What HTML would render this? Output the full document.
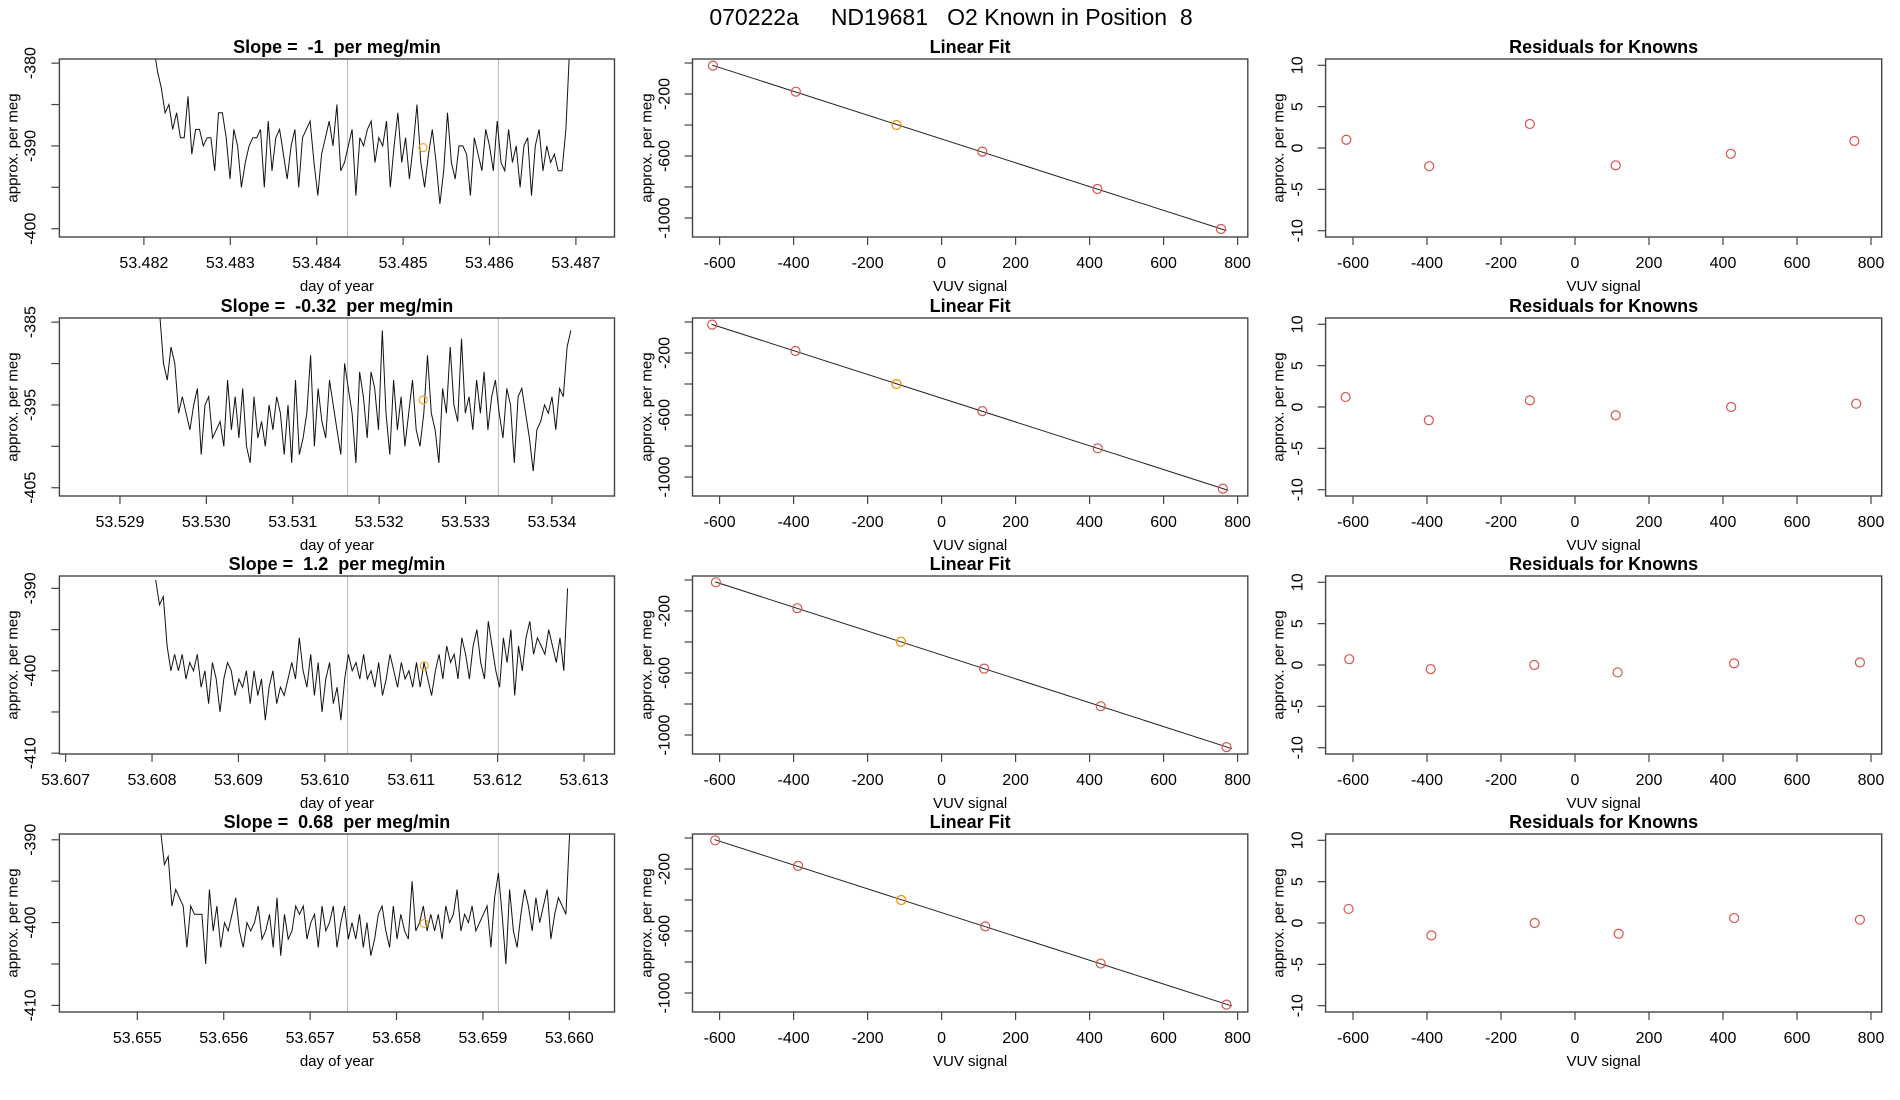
<!DOCTYPE html>
<html><head><meta charset="utf-8"><style>
html,body{margin:0;padding:0;background:#fff;}
svg{display:block;font-family:"Liberation Sans",sans-serif;}
</style></head><body>
<svg id="chart" width="1900" height="1100" xmlns="http://www.w3.org/2000/svg">
<rect width="1900" height="1100" fill="#fff"/>
<text x="951" y="25" font-size="23" text-anchor="middle" fill="#000" xml:space="preserve">070222a     ND19681   O2 Known in Position  8</text>
</svg>
<script>
// ---- data ----
const slopeLabels = ["-1", "-0.32", "1.2", "0.68"];
const tsStart = [53.482113, 53.52946, 53.608043, 53.65527];
const tsEnd = [53.486928, 53.534219, 53.61281, 53.660004];
const tsXMin = [53.481022, 53.528299, 53.606928, 53.654098];
const tsXTicks = [
  [53.482,53.483,53.484,53.485,53.486,53.487],
  [53.529,53.530,53.531,53.532,53.533,53.534],
  [53.607,53.608,53.609,53.610,53.611,53.612,53.613],
  [53.655,53.656,53.657,53.658,53.659,53.660]
];
const tsXTickLabels = [
  ["53.482","53.483","53.484","53.485","53.486","53.487"],
  ["53.529","53.530","53.531","53.532","53.533","53.534"],
  ["53.607","53.608","53.609","53.610","53.611","53.612","53.613"],
  ["53.655","53.656","53.657","53.658","53.659","53.660"]
];
const tsYTop = [-379.5, -384.5, -388.5, -389.3];
const tsYBottom = [-401.0, -406.0, -410.1, -410.8];
const tsYTicks = [[-380,-385,-390,-395,-400],[-385,-390,-395,-400,-405],[-390,-395,-400,-405,-410],[-390,-395,-400,-405,-410]];
const tsYTickLabels = [["-380","","-390","","-400"],["-385","","-395","","-405"],["-390","","-400","","-410"],["-390","","-400","","-410"]];
const tsGrayLines = [[53.484357,53.486103],[53.531634,53.53338],[53.610263,53.612009],[53.657433,53.659179]];
const tsKnownX = [53.48523, 53.53251, 53.61115, 53.65832];
const tsKnownY = [-390.2, -394.4, -399.4, -400.1];
const tsValues1 = [-378,-381,-383,-386,-385,-388,-386,-389,-389,-384,-391,-388,-388,-390,-389,-389,-393,-386,-386,-389,-394,-388,-390,-395,-392,-390,-389,-389,-388,-395,-387,-393,-389,-388,-391,-394,-390,-388,-395,-389,-388,-387,-392,-396,-391,-389,-387,-390,-385,-393,-392,-390,-388,-396,-389,-390,-388,-387,-392,-389,-390,-387,-395,-390,-386,-392,-389,-394,-390,-385,-392,-395,-391,-388,-392,-397,-393,-386,-392,-394,-390,-390,-391,-396,-389,-391,-393,-388,-390,-393,-387,-392,-393,-388,-392,-390,-395,-390,-389,-396,-390,-388,-393,-390,-392,-391,-393,-393,-388,-378];
const tsValues2 = [-384,-390,-392,-388,-390,-396,-394,-396,-398,-395,-393,-401,-395,-394,-399,-398,-397,-400,-392,-398,-394,-399,-393,-400,-402,-394,-399,-397,-400,-395,-398,-394,-396,-401,-395,-402,-392,-401,-399,-396,-389,-400,-393,-397,-399,-392,-395,-398,-401,-390,-393,-396,-402,-391,-394,-399,-391,-393,-398,-386,-396,-401,-392,-398,-394,-400,-396,-392,-398,-400,-396,-389,-396,-398,-402,-393,-396,-388,-395,-397,-387,-396,-394,-398,-392,-396,-391,-398,-394,-392,-396,-399,-393,-395,-402,-394,-393,-396,-399,-403,-398,-397,-395,-396,-394,-398,-393,-394,-388,-386];
const tsValues3 = [-389,-392,-391,-397,-400,-398,-400,-398,-401,-399,-400,-398,-402,-400,-404,-399,-401,-405,-401,-399,-400,-403,-401,-402,-400,-404,-400,-403,-401,-406,-402,-400,-404,-402,-403,-401,-399,-401,-396,-400,-402,-398,-403,-399,-405,-401,-399,-404,-402,-406,-401,-398,-400,-399,-401,-398,-401,-400,-402,-399,-403,-401,-398,-400,-402,-399,-401,-400,-402,-399,-402,-399,-401,-403,-400,-398,-401,-397,-399,-398,-401,-396,-398,-401,-397,-395,-399,-401,-394,-397,-400,-402,-396,-399,-395,-403,-397,-400,-396,-394,-398,-396,-397,-398,-395,-397,-399,-396,-400,-390];
const tsValues4 = [-389,-393,-392,-398,-396,-397,-398,-403,-398,-399,-399,-399,-405,-396,-401,-398,-403,-400,-401,-399,-397,-401,-403,-400,-401,-400,-398,-402,-401,-399,-403,-397,-404,-399,-402,-401,-398,-399,-398,-402,-400,-399,-403,-398,-401,-400,-398,-403,-400,-398,-402,-400,-402,-399,-403,-400,-404,-402,-399,-398,-401,-403,-398,-402,-399,-401,-402,-395,-401,-400,-398,-401,-399,-401,-399,-402,-398,-400,-399,-396,-401,-399,-400,-398,-401,-400,-399,-398,-403,-397,-394,-399,-405,-396,-401,-403,-399,-396,-398,-401,-397,-400,-398,-396,-402,-399,-397,-398,-399,-389];
const tsValues = [tsValues1, tsValues2, tsValues3, tsValues4];

const fitX1 = [-618,-394,-122,110,421,755];
const fitY1 = [-17,-185,-400,-572,-813,-1071];
const fitX2 = [-620,-395,-122,110,422,760];
const fitY2 = [-17,-187,-400,-575,-815,-1075];
const fitX3 = [-610,-390,-110,115,430,770];
const fitY3 = [-15,-182,-398,-572,-814,-1078];
const fitX4 = [-612,-388,-109,118,430,770];
const fitY4 = [-15,-180,-400,-570,-810,-1075];
const fitXs = [fitX1, fitX2, fitX3, fitX4];
const fitYs = [fitY1, fitY2, fitY3, fitY4];
const knownIndex = 2;
const fitXTicks = [-600,-400,-200,0,200,400,600,800];
const fitYTicks = [0,-200,-400,-600,-800,-1000];
const fitYTickLabels = ["","-200","","-600","","-1000"];

const resid1 = [1.0,-2.2,2.9,-2.1,-0.7,0.85];
const resid2 = [1.2,-1.6,0.8,-1.0,0.0,0.4];
const resid3 = [0.7,-0.5,0.0,-0.9,0.2,0.3];
const resid4 = [1.7,-1.5,0.0,-1.3,0.6,0.4];
const resids = [resid1, resid2, resid3, resid4];
const residYTicks = [10,5,0,-5,-10];

// ---- drawing ----
const svg = document.getElementById('chart');
const NS = "http://www.w3.org/2000/svg";
function mk(tag, attrs, parent){
  const e = document.createElementNS(NS, tag);
  for (const k in attrs) e.setAttribute(k, attrs[k]);
  (parent||svg).appendChild(e);
  return e;
}
function txt(s, attrs, parent){ const t = mk('text', attrs, parent); t.textContent = s; return t; }

const rowTop = [59, 318, 576, 834];
const BOXH = 178;
const cols = [{l:59.4,r:614.5},{l:692.5,r:1247.8},{l:1325.6,r:1881.7}];
const tickLabX = [31, 665, 1298];
const axisLabX = [13, 647, 1279];
const FS = 16;

function frame(g, c, top, title){
  mk('rect',{x:c.l,y:top,width:c.r-c.l,height:BOXH,fill:'none',stroke:'#444','stroke-width':1.4},g);
  const t = txt(title,{x:(c.l+c.r)/2,y:top-6,'font-size':18,'font-weight':'bold','text-anchor':'middle'},g);
  t.setAttribute('xml:space','preserve');
  t.style.whiteSpace = 'pre';
  
  
}
function xAxis(g, c, top, ticks, labels, sx, label){
  const yb = top+BOXH;
  ticks.forEach((v,i)=>{
    const x = sx(v);
    mk('line',{x1:x,x2:x,y1:yb,y2:yb+8,stroke:'#444','stroke-width':1.2},g);
    const t = txt(labels[i],{x:x,y:yb+31,'font-size':FS,'text-anchor':'middle'},g);
    
    
  });
  const t = txt(label,{x:(c.l+c.r)/2,y:yb+54,'font-size':15,'text-anchor':'middle'},g);
  
  
}
function yAxis(g, ci, c, top, ticks, labels, sy){
  ticks.forEach((v,i)=>{
    const y = sy(v);
    mk('line',{x1:c.l-8,x2:c.l,y1:y,y2:y,stroke:'#444','stroke-width':1.2},g);
    if (labels[i]!==""){
      const t = txt(labels[i],{x:tickLabX[ci],y:y,'font-size':FS,'text-anchor':'middle','dominant-baseline':'central',transform:`rotate(-90 ${tickLabX[ci]} ${y})`},g);
      
      
    }
  });
  const my = top+BOXH/2;
  const t = txt('approx. per meg',{x:axisLabX[ci],y:my,'font-size':15,'text-anchor':'middle','dominant-baseline':'central',transform:`rotate(-90 ${axisLabX[ci]} ${my})`},g);
  
  
}

for (let r=0;r<4;r++){
  const top = rowTop[r];
  {
    const c = cols[0];
    const g = mk('g',{});
    
    
    const xmin = tsXMin[r], pxPer = 86400;
    const sx = v => c.l + (v - xmin)*pxPer;
    const sy = v => top + (tsYTop[r]-v)/(tsYTop[r]-tsYBottom[r])*BOXH;
    const cid = 'clip'+r;
    const cp = mk('clipPath',{id:cid},g);
    mk('rect',{x:c.l,y:top,width:c.r-c.l,height:BOXH},cp);
    tsGrayLines[r].forEach(v=>{
      const l = mk('line',{x1:sx(v),x2:sx(v),y1:top,y2:top+BOXH,stroke:'#bbb','stroke-width':1},g);
      
      
    });
    const vals = tsValues[r];
    const n = vals.length;
    const pts = vals.map((v,i)=>{
      const t = tsStart[r] + (tsEnd[r]-tsStart[r])*i/(n-1);
      return sx(t).toFixed(1)+','+sy(v).toFixed(1);
    }).join(' ');
    const pl = mk('polyline',{points:pts,fill:'none',stroke:'#111','stroke-width':1,'clip-path':`url(#${cid})`},g);
    
    
    const kp = mk('circle',{cx:sx(tsKnownX[r]),cy:sy(tsKnownY[r]),r:4,fill:'none',stroke:'#f5a623','stroke-width':1.2},g);
    
    
    frame(g,c,top,'Slope =  '+slopeLabels[r]+'  per meg/min');
    xAxis(g,c,top,tsXTicks[r],tsXTickLabels[r],sx,'day of year');
    yAxis(g,0,c,top,tsYTicks[r],tsYTickLabels[r],sy);
  }
  {
    const c = cols[1];
    const g = mk('g',{});
    
    
    const sx = v => 941.6 + v*0.37;
    const sy = v => top + 4 + (0 - v)*0.155;
    const xs = fitXs[r], ys = fitYs[r];
    const n = xs.length;
    const mx = xs.reduce((a,b)=>a+b,0)/n, my = ys.reduce((a,b)=>a+b,0)/n;
    let sxy=0, sxx=0;
    for (let i=0;i<n;i++){ sxy += (xs[i]-mx)*(ys[i]-my); sxx += (xs[i]-mx)**2; }
    const b = sxy/sxx, a = my - b*mx;
    const x0 = xs[0]-2, x1 = xs[n-1]+15;
    const fl = mk('line',{x1:sx(x0),y1:sy(a+b*x0),x2:sx(x1),y2:sy(a+b*x1),stroke:'#222','stroke-width':1},g);
    
    
    for (let i=0;i<n;i++){
      const p = mk('circle',{cx:sx(xs[i]),cy:sy(ys[i]),r:4.5,fill:'none',stroke:i===knownIndex?'#f08c00':'#d9534f','stroke-width':1.2},g);
      
      
    }
    frame(g,c,top,'Linear Fit');
    xAxis(g,c,top,fitXTicks,fitXTicks.map(String),sx,'VUV signal');
    yAxis(g,1,c,top,fitYTicks,fitYTickLabels,sy);
  }
  {
    const c = cols[2];
    const g = mk('g',{});
    
    
    const sx = v => 1575 + v*0.37;
    const sy = v => top + 89 - v*8.27;
    const xs = fitXs[r], rs = resids[r];
    for (let i=0;i<xs.length;i++){
      const p = mk('circle',{cx:sx(xs[i]),cy:sy(rs[i]),r:4.5,fill:'none',stroke:'#d9534f','stroke-width':1.2},g);
      
      
    }
    frame(g,c,top,'Residuals for Knowns');
    xAxis(g,c,top,fitXTicks,fitXTicks.map(String),sx,'VUV signal');
    yAxis(g,2,c,top,residYTicks,residYTicks.map(String),sy);
  }
}
</script>
</body></html>
